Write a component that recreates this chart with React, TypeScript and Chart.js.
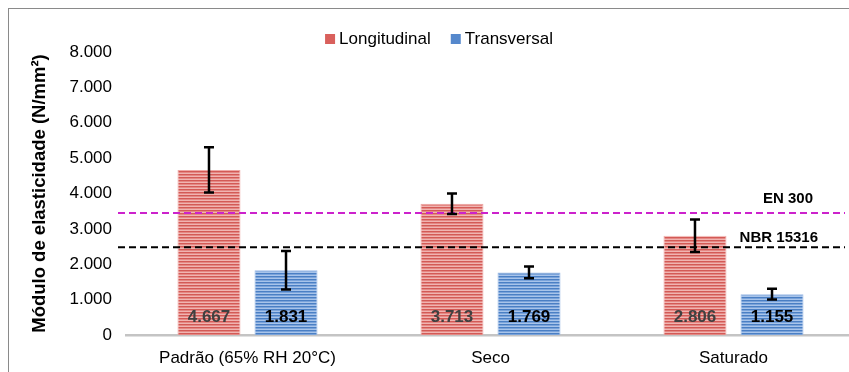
import React, { useEffect, useRef } from "react";
import { Chart, registerables } from "chart.js";

Chart.register(...registerables);

const categories = ["Padrão (65% RH 20°C)", "Seco", "Saturado"];
const seriesNames = ["Longitudinal", "Transversal"];
const longitudinal = [4667, 3713, 2806];
const transversal = [1831, 1769, 1155];
const longitudinalErr = [640, 290, 460];
const transversalErr = [545, 165, 150];
const refNames = ["EN 300", "NBR 15316"];
const refValues = [3450, 2480];
const yTicks = [0, 1000, 2000, 3000, 4000, 5000, 6000, 7000, 8000];

const FONT = "'Liberation Sans', Arial, sans-serif";

function fmt(v: number): string {
  const s = Math.round(v).toString();
  return s.replace(/\B(?=(\d{3})+(?!\d))/g, ".");
}

function stripePattern(colors: string[]): CanvasPattern | string {
  const c = document.createElement("canvas");
  c.width = 4;
  c.height = colors.length;
  const g = c.getContext("2d");
  if (!g) return colors[0];
  colors.forEach((col, i) => {
    g.fillStyle = col;
    g.fillRect(0, i, 4, 1);
  });
  const p = g.createPattern(c, "repeat");
  return p || colors[0];
}

export default function App() {
  const ref = useRef<HTMLCanvasElement | null>(null);

  useEffect(() => {
    if (!ref.current) return;
    const redFill = stripePattern(["#d35a56", "#e48884", "#f0b4b1"]);
    const blueFill = stripePattern(["#4a7fc4", "#7aa3da", "#a8c4ea"]);
    const errs = [longitudinalErr, transversalErr];
    const legendColors = ["#d9605c", "#5588cc"];
    const labelColors = ["#404040", "#000000"];

    const overlay = {
      id: "overlay",
      afterDatasetsDraw(chart: any) {
        const { ctx, chartArea, scales } = chart;
        const y = scales.y;
        ctx.save();
        const refStyles = [
          { color: "#cc22cc", dx: -42, dy: -14 },
          { color: "#000000", dx: -37, dy: -9 },
        ];
        refValues.forEach((v, i) => {
          const py = y.getPixelForValue(v);
          ctx.beginPath();
          ctx.setLineDash([7, 4]);
          ctx.lineWidth = 2;
          ctx.strokeStyle = refStyles[i].color;
          ctx.moveTo(chartArea.left - 8, py);
          ctx.lineTo(chartArea.right - 10, py);
          ctx.stroke();
          ctx.setLineDash([]);
          ctx.font = `bold 15px ${FONT}`;
          ctx.fillStyle = "#000";
          ctx.textAlign = "right";
          ctx.textBaseline = "middle";
          ctx.fillText(refNames[i], chartArea.right + refStyles[i].dx, py + refStyles[i].dy);
        });
        const base = y.getPixelForValue(0);
        chart.data.datasets.forEach((ds: any, di: number) => {
          const meta = chart.getDatasetMeta(di);
          meta.data.forEach((bar: any, j: number) => {
            const v = ds.data[j];
            const e = errs[di][j];
            const top = y.getPixelForValue(v + e);
            const bot = y.getPixelForValue(v - e);
            ctx.strokeStyle = "#000";
            ctx.lineWidth = 2.5;
            ctx.beginPath();
            ctx.moveTo(bar.x, top);
            ctx.lineTo(bar.x, bot);
            ctx.moveTo(bar.x - 5, top);
            ctx.lineTo(bar.x + 5, top);
            ctx.moveTo(bar.x - 5, bot);
            ctx.lineTo(bar.x + 5, bot);
            ctx.stroke();
            ctx.font = `bold 17px ${FONT}`;
            ctx.fillStyle = labelColors[di];
            ctx.textAlign = "center";
            ctx.textBaseline = "middle";
            ctx.fillText(fmt(v), bar.x, base - 18);
          });
        });
        ctx.restore();
      },
      afterDraw(chart: any) {
        const { ctx } = chart;
        ctx.save();
        ctx.font = `17px ${FONT}`;
        const box = 10;
        const gapText = 4;
        const gapItem = 20;
        const widths = seriesNames.map((n) => ctx.measureText(n).width);
        const total = widths.reduce((a, w) => a + box + gapText + w, 0) + gapItem * (seriesNames.length - 1);
        let x = chart.width / 2 - total / 2;
        const cy = 30;
        seriesNames.forEach((n, i) => {
          ctx.fillStyle = legendColors[i];
          ctx.fillRect(x, cy - box / 2, box, box);
          ctx.fillStyle = "#000";
          ctx.textAlign = "left";
          ctx.textBaseline = "middle";
          ctx.fillText(n, x + box + gapText, cy);
          x += box + gapText + widths[i] + gapItem;
        });
        ctx.restore();
      },
    };

    const chart = new Chart(ref.current, {
      type: "bar",
      data: {
        labels: categories,
        datasets: [
          {
            label: seriesNames[0],
            data: longitudinal,
            backgroundColor: redFill as any,
            borderColor: "#eeaaa7",
            borderWidth: 1,
            categoryPercentage: 0.634,
            barPercentage: 0.818,
          },
          {
            label: seriesNames[1],
            data: transversal,
            backgroundColor: blueFill as any,
            borderColor: "#9dbbe6",
            borderWidth: 1,
            categoryPercentage: 0.634,
            barPercentage: 0.818,
          },
        ],
      },
      options: {
        responsive: false,
        animation: false,
        devicePixelRatio: 1,
        layout: { padding: { top: 43, right: 14, bottom: 0, left: 0 } },
        plugins: {
          legend: { display: false },
          tooltip: { enabled: false },
        },
        scales: {
          x: {
            grid: { display: false, drawTicks: false },
            border: { display: true, color: "#c4c4c4", width: 2.5 },
            ticks: { font: { family: FONT, size: 17 }, color: "#000", padding: 13 },
            afterFit: (s: any) => {
              s.height = 54;
            },
          },
          y: {
            min: 0,
            max: 8000,
            afterBuildTicks: (s: any) => {
              s.ticks = yTicks.map((v) => ({ value: v }));
            },
            grid: { display: false, drawTicks: false },
            border: { display: false },
            ticks: {
              font: { family: FONT, size: 17 },
              color: "#000",
              padding: 14,
              callback: (v: any) => fmt(Number(v)),
            },
            title: {
              display: true,
              text: "Módulo de elasticidade (N/mm²)",
              font: { family: FONT, size: 18.5, weight: "bold" },
              color: "#000",
              padding: { top: 19.5, bottom: 0 },
            },
            afterFit: (s: any) => {
              s.width = 117;
            },
          },
        },
      },
      plugins: [overlay],
    });
    return () => chart.destroy();
  }, []);

  return (
    <div
      style={{
        position: "fixed",
        left: 8,
        top: 8,
        width: 840,
        height: 363,
        overflow: "hidden",
        borderLeft: "1px solid #8a8a8a",
        borderTop: "1px solid #8a8a8a",
        background: "#fff",
      }}
    >
      <canvas ref={ref} width={860} height={380} style={{ display: "block", width: 860, height: 380 }} />
    </div>
  );
}
